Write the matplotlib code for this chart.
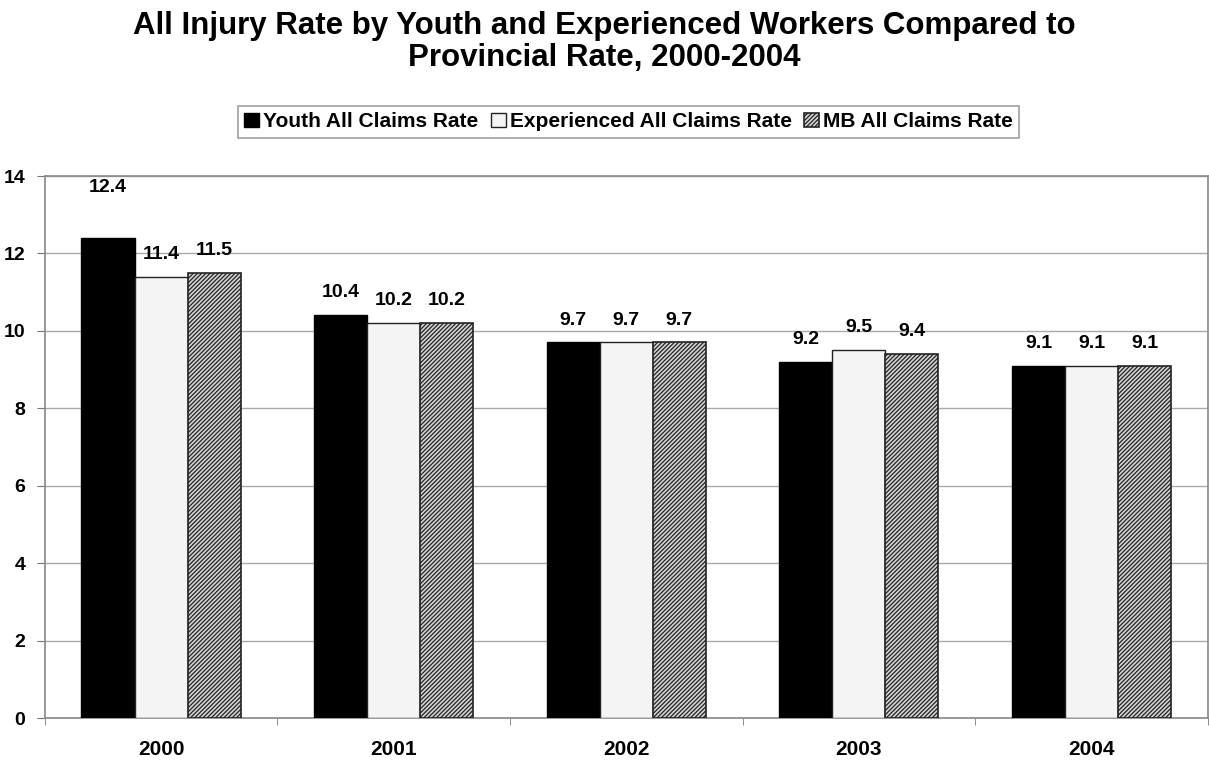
import matplotlib.pyplot as plt
import numpy as np

years = ['2000', '2001', '2002', '2003', '2004']
youth = [12.4, 10.4, 9.7, 9.2, 9.1]
experienced = [11.4, 10.2, 9.7, 9.5, 9.1]
mb = [11.5, 10.2, 9.7, 9.4, 9.1]

plt.rcParams['font.family'] = ['Liberation Sans', 'DejaVu Sans']
plt.rcParams['font.weight'] = 'bold'
plt.rcParams['hatch.color'] = '#4a4a4a'
plt.rcParams['hatch.linewidth'] = 0.9

fig = plt.figure(figsize=(12.09, 7.61), dpi=100)
ax = fig.add_axes([0.037, 0.0565, 0.962, 0.7122])

x = np.arange(len(years))
w = 0.228

b1 = ax.bar(x - w, youth, w, color='black', edgecolor='black', linewidth=1,
            label='Youth All Claims Rate', zorder=3)
b2 = ax.bar(x, experienced, w, color='#f4f4f4', edgecolor='#222222', linewidth=1,
            label='Experienced All Claims Rate', zorder=3)
b3 = ax.bar(x + w, mb, w, color='#d4d4d4', edgecolor='#222222', linewidth=1.2,
            hatch='////////', label='MB All Claims Rate', zorder=3)

# value labels above each bar; the tallest one sits a bit higher
for bars, vals in ((b1, youth), (b2, experienced), (b3, mb)):
    for b, v in zip(bars, vals):
        lift = 1.3 if v == max(youth) else 0.58
        ax.text(b.get_x() + b.get_width() / 2, v + lift, f'{v:.1f}',
                ha='center', va='center', fontsize=14, fontweight='bold')

ax.set_xlim(-0.5, len(years) - 0.5)
ax.set_ylim(0, 14)
ax.set_yticks(range(0, 15, 2))
ax.set_xticks(x)
ax.set_xticklabels(years)
ax.set_xticks(np.arange(-0.5, len(years)), minor=True)
ax.tick_params(axis='x', which='major', length=0, pad=16, labelsize=15)
ax.tick_params(axis='x', which='minor', length=5, color='#777777')
ax.tick_params(axis='y', length=6, color='#777777', labelsize=14, pad=8)
ax.grid(axis='y', color='#aaaaaa', linewidth=1, zorder=0)
for s in ax.spines.values():
    s.set_color('#888888')
    s.set_linewidth(1.2)

fig.text(0.5, 0.945,
         'All Injury Rate by Youth and Experienced Workers Compared to\nProvincial Rate, 2000-2004',
         ha='center', va='center', fontsize=22.5, fontweight='bold', linespacing=1.08)

leg = fig.legend(handles=[b1, b2, b3], loc='center', bbox_to_anchor=(0.52, 0.84),
                 ncol=3, fontsize=15, frameon=True, fancybox=False,
                 handlelength=0.7, handleheight=0.7, handletextpad=0.2,
                 columnspacing=0.6, borderpad=0.3)
leg.get_frame().set_edgecolor('#888888')
leg.get_frame().set_linewidth(1.2)

fig.savefig('out.png', dpi=100)
